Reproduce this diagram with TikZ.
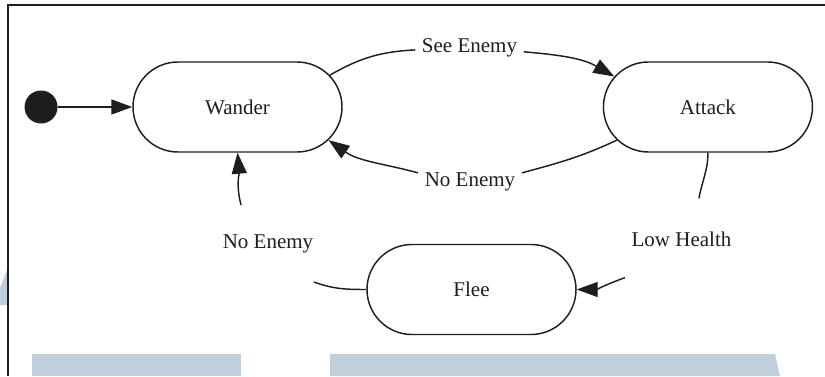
\documentclass[tikz,border=0pt]{standalone}
\usepackage{fontspec}
\setmainfont{Liberation Serif}
\usetikzlibrary{shapes.misc,arrows.meta,positioning}
\definecolor{ink}{HTML}{1E1E1E}
\definecolor{wmblue}{HTML}{BFCFDC}

\begin{document}
\begin{tikzpicture}[x=1pt, y=1pt, line width=1.45pt, ink,
    nodes={font=\fontsize{21}{25}\selectfont, text=ink},
    statebox/.style={draw, rounded rectangle, minimum width=209pt,
      minimum height=90pt, inner sep=0pt},
    initdot/.style={circle, fill, minimum size=33pt, inner sep=0pt},
    lbl/.style={inner xsep=6pt},
    trans/.style={-{Triangle[length=21pt,width=15pt]}}]
  \fill[white] (0,0) rectangle (825,376);
  \useasboundingbox (0,0) rectangle (825,376);
  \fill[wmblue] (32,0) rectangle (241,22);
  \fill[wmblue] (330,0) -- (330,22) -- (775,22) -- (780,0) -- cycle;
  \fill[wmblue] (0,71) -- (7,71) -- (7,106) -- (0,88) -- cycle;
  \draw[line width=1.6pt] (8,0) -- (8,371) -- (825,371);

  \node[statebox] (wander) at (237.5,269) {Wander};
  \node[statebox, right=260pt of wander] (attack) {Attack};
  \node[statebox] (flee) at (471.5,86.5) {Flee};
  \node[initdot, left=74pt of wander] (start) {};
  \node[lbl, inner ysep=6pt] (see) at (469.5,328) {See Enemy};
  \node[lbl, inner ysep=6pt] (neA) at (470,194) {No Enemy};
  \node[lbl, inner ysep=33pt] (low) at (681.5,136.5) {Low Health};
  \node[lbl, inner ysep=28.6pt] (neB) at (268,132.5) {No Enemy};

  \draw[trans] (start) -- (wander);
  \draw (wander.19) to[out=30,in=183] (see.182);
  \draw[trans] (see.-4) to[out=-5,in=150] (attack.162);
  \draw (attack.200) to[out=205,in=15] (neA.10);
  \draw[trans] (neA.170) to[out=165,in=-35] (wander.-20);
  \draw (attack.south) to[out=-90,in=80] (low.67);
  \draw[trans] (low.214) to[out=200,in=0] (flee.east);
  \draw (flee.west) to[out=180,in=-20] (neB.-40);
  \draw[trans] (neB.125) to[out=105,in=-85] (wander.south);
\end{tikzpicture}
\end{document}
